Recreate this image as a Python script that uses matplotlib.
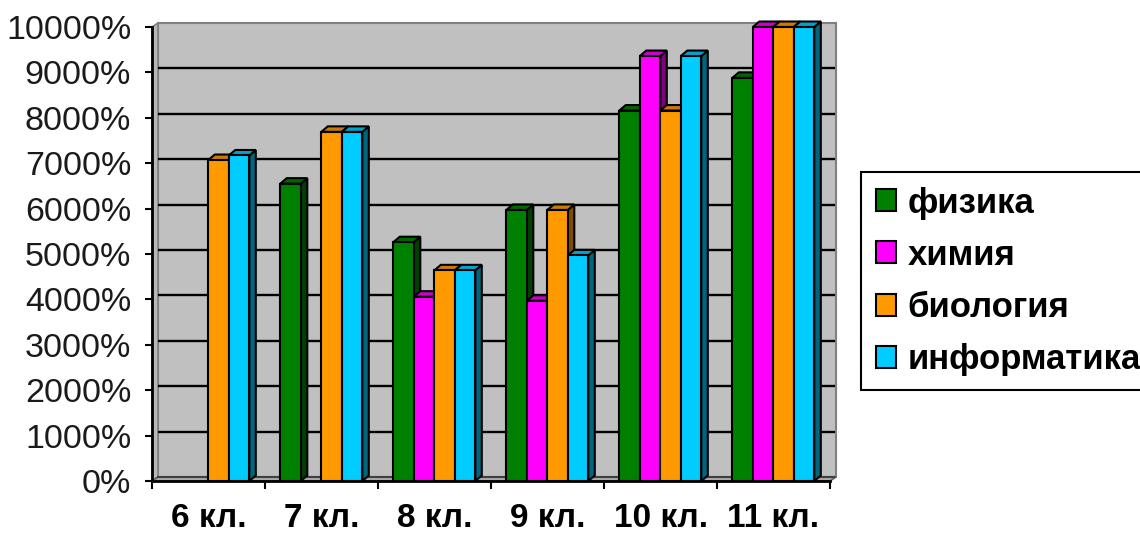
import matplotlib
matplotlib.use('Agg')
import matplotlib.pyplot as plt
from matplotlib.patches import Polygon, Rectangle, Patch
from matplotlib.font_manager import FontProperties

# ---------------- data ----------------
categories = ['6 кл.', '7 кл.', '8 кл.', '9 кл.', '10 кл.', '11 кл.']
series_names = ['физика', 'химия', 'биология', 'информатика']
fizika = [0, 6550, 5260, 5970, 8160, 8880]
himiya = [0, 0, 4060, 3970, 9360, 10000]
biologiya = [7070, 7690, 4640, 5970, 8160, 10000]
informatika = [7170, 7690, 4640, 4970, 9360, 10000]
y_ticks = list(range(0, 10001, 1000))
y_tick_labels = [f'{v}%' for v in y_ticks]

series = [fizika, himiya, biologiya, informatika]
face_colors = ['#008000', '#FF00FF', '#FF9900', '#00CCFF']
top_colors = ['#006600', '#CC00CC', '#CC7A00', '#00A3CC']
side_colors = ['#004000', '#800080', '#804C00', '#006680']

# ---------------- layout ----------------
W, H = 1140, 534
fig = plt.figure(figsize=(W / 100, H / 100), dpi=100)
fig.patch.set_facecolor('white')
ax_l, ax_r, ax_t, ax_b = 152, 835, 23, 481
ax = fig.add_axes([ax_l / W, 1 - ax_b / H, (ax_r - ax_l) / W, (ax_b - ax_t) / H])
n = len(categories)
cat_px = 113.0
unit_px = 45.4  # pixels per 1000
x_max = (ax_r - ax_l) / cat_px
y_max = (ax_b - ax_t) / unit_px * 1000
ax.set_xlim(0, x_max)
ax.set_ylim(0, y_max)
ax.set_facecolor('none')

px_x = cat_px           # pixels per x unit
px_y = unit_px / 1000   # pixels per y unit

# depth offsets (pixels -> data units)
wdx, wdy = 6 / px_x, 4 / px_y
bdx, bdy = 6.5 / px_x, 5.5 / px_y

ymax_val = y_ticks[-1]
# back wall
ax.add_patch(Rectangle((wdx, wdy), n, ymax_val, facecolor='#C0C0C0',
                       edgecolor='#808080', lw=1.5, zorder=0.5, clip_on=False))
# left side wall
ax.add_patch(Polygon([(0, 0), (0, ymax_val), (wdx, ymax_val + wdy), (wdx, wdy)],
                     closed=True, facecolor='#B8B8B8', edgecolor='#808080', lw=1.2,
                     zorder=0.6, clip_on=False))
# floor
ax.add_patch(Polygon([(0, 0), (n, 0), (n + wdx, wdy), (wdx, wdy)],
                     closed=True, facecolor='#A8A8A8', edgecolor='#606060', lw=1.2,
                     zorder=0.6, clip_on=False))
# gridlines on back wall
for v in y_ticks[1:-1]:
    ax.plot([wdx, n + wdx], [v + wdy, v + wdy], color='black', lw=1.7, zorder=0.8,
            solid_capstyle='butt')
ax.plot([wdx, n + wdx], [wdy, wdy], color='#404040', lw=1.5, zorder=0.8)

# bars
off = 15.3 / px_x
bw = 20.5 / px_x
for j, vals in enumerate(series):
    xs = [i + off + j * bw for i in range(n)]
    bars = ax.bar(xs, vals, width=bw, align='edge', color=face_colors[j],
                  edgecolor='black', lw=1.5)
    for i, (b, v) in enumerate(zip(bars, vals)):
        k = i * 4 + j
        zb = 2 + k * 0.01
        if v <= 0:
            b.set_visible(False)
            continue
        x0 = xs[i]
        top = Polygon([(x0, v), (x0 + bw, v), (x0 + bw + bdx, v + bdy), (x0 + bdx, v + bdy)],
                      closed=True, facecolor=top_colors[j], edgecolor='black', lw=1.5,
                      zorder=zb, clip_on=False)
        side = Polygon([(x0 + bw, 0), (x0 + bw + bdx, bdy), (x0 + bw + bdx, v + bdy), (x0 + bw, v)],
                       closed=True, facecolor=side_colors[j], edgecolor='black', lw=1.5,
                       zorder=zb, clip_on=False)
        ax.add_patch(side)
        ax.add_patch(top)
        b.set_zorder(zb + 0.005)
        b.set_clip_on(False)

# axes / ticks
for s in ['top', 'right']:
    ax.spines[s].set_visible(False)
ax.spines['left'].set_bounds(0, ymax_val)
ax.spines['bottom'].set_bounds(0, n)
for s in ['left', 'bottom']:
    ax.spines[s].set_linewidth(2)
    ax.spines[s].set_color('black')
    ax.spines[s].set_zorder(5)

ax.set_yticks(y_ticks)
ax.set_yticklabels(y_tick_labels, fontproperties=FontProperties(family='Liberation Sans', size=24.5))
ax.tick_params(axis='y', direction='out', length=5, width=1.5, pad=10, colors='black',
               labelcolor='#1a1a1a')

ax.set_xticks(list(range(n + 1)))
ax.set_xticklabels([''] * (n + 1))
ax.tick_params(axis='x', which='major', direction='out', length=6, width=1.5, colors='black')
ax.set_xticks([i + 0.5 for i in range(n)], minor=True)
ax.set_xticklabels(categories, minor=True,
                   fontproperties=FontProperties(family='Liberation Sans', weight='bold', size=24))
ax.tick_params(axis='x', which='minor', length=0, pad=16, labelcolor='black')

# legend
handles = [Patch(facecolor=c, edgecolor='black', lw=1.5) for c in face_colors]
leg = fig.legend(handles, series_names, loc='upper left',
                 bbox_to_anchor=(861 / W, 1 - 172 / H), bbox_transform=fig.transFigure,
                 borderaxespad=0, frameon=True, fancybox=False, edgecolor='black',
                 prop=FontProperties(family='Liberation Sans', weight='bold', size=25),
                 handlelength=0.6, handleheight=0.6, handletextpad=0.32,
                 borderpad=0.42, labelspacing=0.55)
leg.get_frame().set_linewidth(1.5)
leg.get_frame().set_alpha(None)
leg.get_frame().set_facecolor('white')

fig.savefig('out.png', dpi=100)
